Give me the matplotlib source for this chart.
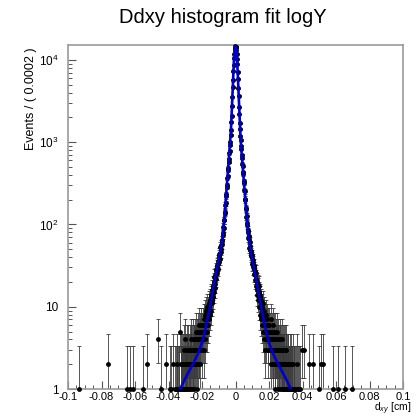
import numpy as np
import matplotlib
matplotlib.use("Agg")
import matplotlib.pyplot as plt
from matplotlib.ticker import FixedLocator, MultipleLocator, NullFormatter
from math import exp, log, lgamma, sqrt

plt.rcParams['font.family'] = ['Liberation Sans', 'DejaVu Sans']
plt.rcParams['mathtext.fontset'] = 'custom'
plt.rcParams['mathtext.rm'] = 'Liberation Sans'
plt.rcParams['mathtext.it'] = 'Liberation Sans:italic'

# ---------------- data ----------------
BIN_W = 0.0002
# counts for bins at x = +(0.0001 + 0.0002*k), k = 0..199
counts_pos = [
    14550, 14200, 13060, 11950, 10290, 8830, 7160, 5890, 4550, 3680,
    2650, 2180, 1690, 1452, 1178, 1061, 889, 823, 695, 651,
    548, 519, 431, 412, 338, 322, 261, 252, 205, 197,
    158, 156, 125, 127, 99, 104, 81, 86, 69, 73,
    66, 52, 61, 49, 55, 41, 47, 44, 33, 42,
    39, 30, 37, 34, 25, 31, 29, 21, 27, 24,
    18, 26, 22, 16, 20, 14, 19, 17, 12, 18,
    15, 10, 13, 14, 8, 12, 7, 11, 10, 6,
    9, 11, 5, 8, 7, 4, 9, 6, 3, 7,
    5, 8, 4, 6, 7, 5, 3, 6, 4, 5,
    6, 3, 5, 4, 7, 2, 4, 5, 3, 4,
    6, 2, 3, 5, 4, 3, 2, 5, 1, 3,
    4, 3, 2, 5, 3, 1, 3, 4, 2, 3,
    2, 4, 1, 3, 2, 3, 0, 2, 4, 1,
    3, 1, 2, 3, 1, 2, 3, 1, 0, 2,
    3, 1, 2, 1, 0, 2, 1, 2, 0, 1,
    1, 2, 0, 1, 2, 1, 0, 1, 1, 0,
    0, 2, 0, 1, 1, 0, 0, 0, 1, 0,
    0, 1, 2, 0, 0, 0, 1, 0, 0, 1,
    0, 0, 0, 1, 0, 0, 0, 3, 0, 0,
]
# counts for bins at x = -(0.0001 + 0.0002*k), k = 0..199
counts_neg = [
    14700, 14020, 13240, 11780, 10420, 8690, 7290, 5760, 4660, 3580,
    2740, 2101, 1758, 1398, 1226, 1012, 928, 784, 731, 617,
    582, 489, 461, 384, 363, 298, 284, 232, 221, 180,
    174, 141, 139, 112, 113, 90, 93, 75, 79, 63,
    58, 64, 50, 57, 46, 53, 38, 45, 44, 35,
    41, 33, 29, 36, 32, 26, 30, 22, 28, 25,
    24, 19, 17, 23, 15, 20, 18, 13, 16, 11,
    16, 12, 14, 9, 13, 11, 8, 12, 7, 10,
    11, 6, 9, 8, 5, 10, 6, 7, 9, 5,
    7, 4, 8, 6, 3, 7, 5, 4, 6, 5,
    3, 6, 4, 5, 2, 5, 4, 3, 6, 3,
    4, 5, 2, 3, 4, 1, 3, 5, 2, 3,
    2, 4, 3, 1, 3, 2, 4, 2, 0, 3,
    1, 3, 2, 4, 1, 2, 3, 0, 2, 1,
    3, 2, 0, 2, 1, 3, 1, 2, 1, 4,
    1, 2, 0, 1, 3, 1, 2, 0, 1, 2,
    0, 1, 2, 1, 0, 5, 0, 1, 1, 0,
    1, 0, 0, 2, 1, 0, 0, 0, 1, 0,
    0, 1, 0, 0, 0, 0, 0, 2, 0, 0,
    0, 1, 0, 0, 0, 0, 1, 0, 0, 0,
]
# sparse far-tail bins
tail_x = [-0.0935, -0.0761, -0.0649, -0.0631, -0.0611, -0.0551, -0.0527, -0.0461, -0.0447, -0.0413,
          0.0407, 0.0437, 0.0461, 0.0497, 0.0509, 0.0521, 0.0581, 0.0611, 0.0651, 0.0697]
tail_counts = [1, 2, 1, 1, 1, 1, 2, 4, 1, 2,
               3, 2, 2, 1, 2, 2, 1, 1, 1, 1]

# fit model (sum of Gaussians, events per bin)
fit_amp = [12800.0, 1800.0, 110.0, 5.3]
fit_sigma = [0.0010, 0.0025, 0.0064, 0.0181]
fit_mean = 0.0

x_ticks = [-0.1, -0.08, -0.06, -0.04, -0.02, 0.0, 0.02, 0.04, 0.06, 0.08, 0.1]
x_tick_labels = ["-0.1", "-0.08", "-0.06", "-0.04", "-0.02", "0", "0.02", "0.04", "0.06", "0.08", "0.1"]
y_ticks = [1, 10, 100, 1000, 10000]
y_tick_labels = ["1", "10", r"$\mathregular{10^{2}}$", r"$\mathregular{10^{3}}$", r"$\mathregular{10^{4}}$"]

# ---------------- helpers ----------------
def pois_cdf(k, mu):
    if k < 0:
        return 0.0
    s = 0.0
    lm = log(mu) if mu > 0 else -1e300
    for i in range(k + 1):
        s += exp(-mu + i * lm - lgamma(i + 1))
    return s

def pois_interval(n):
    alpha = 0.158655
    if n > 100:
        s = sqrt(n)
        return n - s, n + s
    a, b = float(n), n + 10 * sqrt(n) + 10
    for _ in range(80):
        m = 0.5 * (a + b)
        if pois_cdf(n, m) > alpha:
            a = m
        else:
            b = m
    up = 0.5 * (a + b)
    if n == 0:
        return 0.0, up
    a, b = 1e-9, float(n)
    for _ in range(80):
        m = 0.5 * (a + b)
        if pois_cdf(n - 1, m) > 1 - alpha:
            a = m
        else:
            b = m
    lo = 0.5 * (a + b)
    return lo, up

k = np.arange(200)
centers = 0.0001 + BIN_W * k
x = np.concatenate([-centers[::-1], centers, np.array(tail_x)])
n = np.concatenate([np.array(counts_neg)[::-1], np.array(counts_pos), np.array(tail_counts)]).astype(float)
sel = n > 0
x, n = x[sel], n[sel]
lo = np.zeros_like(n)
hi = np.zeros_like(n)
for i, v in enumerate(n):
    l, u = pois_interval(int(v))
    lo[i] = v - l
    hi[i] = u - v

xc = np.linspace(-0.1, 0.1, 8001)
yc = np.zeros_like(xc)
for a, s in zip(fit_amp, fit_sigma):
    yc += a * np.exp(-0.5 * ((xc - fit_mean) / s) ** 2)

# ---------------- figure ----------------
fig = plt.figure(figsize=(4.16, 4.18), dpi=100)
ax = fig.add_axes([68 / 416, 29 / 418, 335 / 416, 344 / 418])

ax.errorbar(x, n, yerr=[lo, hi], fmt='none', ecolor='#3a3a3a', elinewidth=0.6,
            capsize=1.4, capthick=0.6, zorder=2)
ax.plot(x, n, 'o', color='black', ms=3.5, mew=0, zorder=3, clip_on=False)
ax.plot(xc, yc, color='#0000d0', lw=1.9, zorder=4)

ax.set_yscale('log')
ax.set_xlim(-0.1, 0.1)
ax.set_ylim(1, 15200)

ax.xaxis.set_major_locator(FixedLocator(x_ticks))
ax.set_xticklabels(x_tick_labels)
ax.xaxis.set_minor_locator(MultipleLocator(0.005))
ax.yaxis.set_major_locator(FixedLocator(y_ticks))
ax.set_yticklabels(y_tick_labels)
ax.yaxis.set_minor_formatter(NullFormatter())

frame_c = '#9a9a9a'
for sp in ax.spines.values():
    sp.set_color(frame_c)
    sp.set_linewidth(1.2)
ax.tick_params(which='both', direction='in', top=False, right=False, colors='#555555',
               labelcolor='black')
ax.tick_params(axis='x', labelsize=8)
ax.tick_params(axis='y', labelsize=8.5)
ax.tick_params(which='major', length=6, width=0.8)
ax.tick_params(axis='x', which='major', pad=2)
ax.tick_params(axis='y', which='major', pad=7)
ax.tick_params(which='minor', length=3, width=0.7)

fig.text(223 / 416, 1 - 23 / 418, "Ddxy histogram fit logY", ha='center', va='baseline', fontsize=14.5)
fig.text(31 / 416, 1 - 47 / 418, "Events / ( 0.0002 )", rotation=90, ha='center', va='top', fontsize=9)
fig.text(411 / 416, 0.8 / 418, r"d$_{xy}$ [cm]", ha='right', va='bottom', fontsize=7.5)

fig.savefig("out.png", dpi=100)
